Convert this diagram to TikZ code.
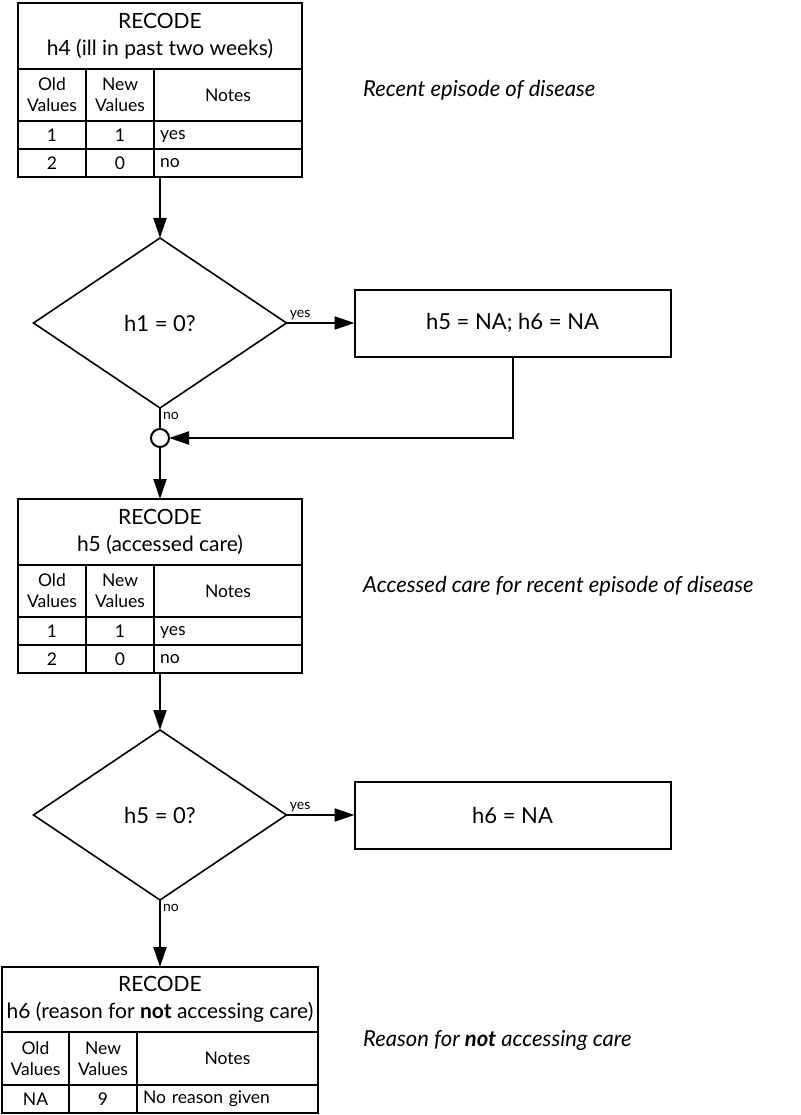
\documentclass[tikz,border=0pt]{standalone}
\usepackage{fontspec}
\setmainfont{Lato}
\usepackage{tikz}
\usetikzlibrary{shapes,arrows.meta,positioning,fit}

\begin{document}
\begin{tikzpicture}[x=1pt, y=-1pt, node distance=0pt]
        \tikzstyle{head}=[rectangle, draw=black, line width=2pt, outer sep=0pt, inner sep=0pt, align=center, font=\fontsize{21}{27}\selectfont, minimum width=284pt, minimum height=66pt]
        \tikzstyle{cell}=[rectangle, draw=black, line width=2pt, outer sep=0pt, inner sep=0pt, align=center, font=\fontsize{17.5}{21}\selectfont, minimum width=68pt, minimum height=28pt]
        \tikzstyle{notecell}=[cell, text width=136pt, inner xsep=6pt, align=left, text height=11pt, text depth=2pt]
        \tikzstyle{decision}=[diamond, draw=black, line width=1.6pt, outer sep=0pt, inner sep=0pt, minimum width=253pt, minimum height=170pt, font=\fontsize{22}{26}\selectfont]
        \tikzstyle{action}=[rectangle, draw=black, line width=2pt, outer sep=0pt, minimum width=316pt, minimum height=67pt, font=\fontsize{22}{26}\selectfont]
        \tikzstyle{junction}=[circle, draw=black, line width=2pt, fill=white, outer sep=0pt, inner sep=0pt, minimum size=18pt]
        \tikzstyle{remark}=[font=\fontsize{22}{26}\selectfont\itshape, inner sep=0pt, anchor=west]
        \tikzstyle{lbl}=[font=\fontsize{14}{16}\selectfont, inner sep=2pt]
        \tikzstyle{line}=[draw=black, line width=2pt]
        \tikzstyle{arrow}=[line, -{Triangle[length=20pt,width=13pt]}]

        \useasboundingbox (0,0) rectangle (800,1115);

        % Recode h4
        \node (t1head) [head] at (160,36) {RECODE\\h4 (ill in past two weeks)};
        \node (t1old) [cell, minimum height=52pt, below right=0pt and 0pt of t1head.south west] {Old\\Values};
        \node (t1new) [cell, minimum height=52pt, right=0pt of t1old] {New\\Values};
        \node (t1notes) [cell, minimum height=52pt, minimum width=148pt, right=0pt of t1new] {Notes};
        \node (t1a1) [cell, below=0pt of t1old] {1};
        \node (t1b1) [cell, below=0pt of t1new] {1};
        \node (t1c1) [notecell, below=0pt of t1notes] {yes};
        \node (t1a2) [cell, below=0pt of t1a1] {2};
        \node (t1b2) [cell, below=0pt of t1b1] {0};
        \node (t1c2) [notecell, below=0pt of t1c1] {no};
        \node (tab1) [fit=(t1head)(t1c2)(t1a2), inner sep=0pt, outer sep=0pt] {};
        \node (rem1) [remark, right=61pt of tab1] {Recent episode of disease};

        % First decision
        \node (d1) [decision, below=61pt of tab1] {h1 = 0?};
        \node (box1) [action, right=68pt of d1] {h5 = NA; h6 = NA};
        \node (j1) [junction, below=21pt of d1] {};

        % Recode h5
        \node (t2head) [head, below=52pt of j1] {RECODE\\h5 (accessed care)};
        \node (t2old) [cell, minimum height=52pt, below right=0pt and 0pt of t2head.south west] {Old\\Values};
        \node (t2new) [cell, minimum height=52pt, right=0pt of t2old] {New\\Values};
        \node (t2notes) [cell, minimum height=52pt, minimum width=148pt, right=0pt of t2new] {Notes};
        \node (t2a1) [cell, below=0pt of t2old] {1};
        \node (t2b1) [cell, below=0pt of t2new] {1};
        \node (t2c1) [notecell, below=0pt of t2notes] {yes};
        \node (t2a2) [cell, below=0pt of t2a1] {2};
        \node (t2b2) [cell, below=0pt of t2b1] {0};
        \node (t2c2) [notecell, below=0pt of t2c1] {no};
        \node (tab2) [fit=(t2head)(t2c2)(t2a2), inner sep=0pt, outer sep=0pt] {};
        \node (rem2) [remark, right=61pt of tab2] {Accessed care for recent episode of disease};

        % Second decision
        \node (d2) [decision, below=57pt of tab2] {h5 = 0?};
        \node (box2) [action, right=68pt of d2] {h6 = NA};

        % Recode h6
        \node (t3head) [head, minimum width=316pt, minimum height=65pt, below=67pt of d2] {RECODE\\h6 (reason for \textbf{not} accessing care)};
        \node (t3old) [cell, minimum width=67pt, minimum height=53pt, below right=0pt and 0pt of t3head.south west] {Old\\Values};
        \node (t3new) [cell, minimum height=53pt, right=0pt of t3old] {New\\Values};
        \node (t3notes) [cell, minimum height=53pt, minimum width=181pt, right=0pt of t3new] {Notes};
        \node (t3a1) [cell, minimum width=67pt, below=0pt of t3old] {NA};
        \node (t3b1) [cell, below=0pt of t3new] {9};
        \node (t3c1) [notecell, text width=169pt, below=0pt of t3notes] {No reason given};
        \node (tab3) [fit=(t3head)(t3c1)(t3a1), inner sep=0pt, outer sep=0pt] {};
        \node (rem3) [remark, right=45pt of tab3] {Reason for \textbf{not} accessing care};

        % Arrows
        \draw[arrow] (tab1.south) -- (d1.north);
        \draw[arrow] (d1.east) -- node[lbl, above, pos=0.2] {yes} (box1.west);
        \draw[line] (d1.south) -- node[lbl, right, pos=0.4] {no} (j1.north);
        \draw[arrow] (box1.south) |- (j1.east);
        \draw[arrow] (j1.south) -- (t2head.north);
        \draw[arrow] (tab2.south) -- (d2.north);
        \draw[arrow] (d2.east) -- node[lbl, above, pos=0.2] {yes} (box2.west);
        \draw[arrow] (d2.south) -- node[lbl, right, pos=0.12] {no} (t3head.north);
    \end{tikzpicture}
\end{document}
